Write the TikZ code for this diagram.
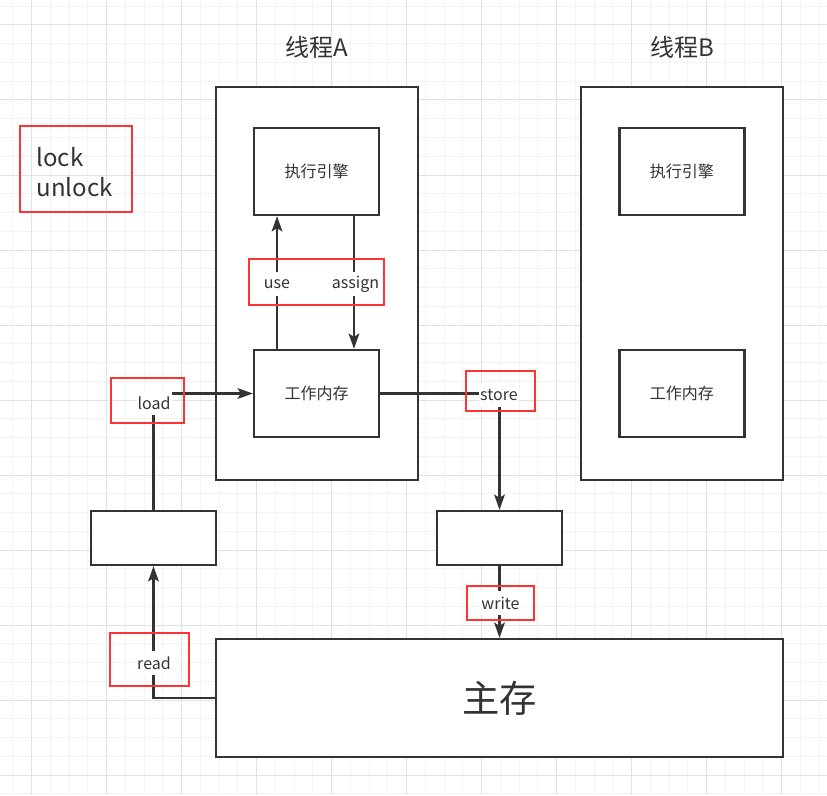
\documentclass[tikz,border=0pt]{standalone}
\usepackage{fontspec}
\setmainfont{Noto Sans CJK SC}
\usepackage{xcolor}
\usepackage{tikz}
\usetikzlibrary{arrows.meta,positioning}
\definecolor{ink}{RGB}{51,51,51}
\definecolor{tagred}{RGB}{255,51,51}
\definecolor{gridminor}{RGB}{243,243,243}
\definecolor{gridmajor}{RGB}{226,226,226}

\begin{document}
\begin{tikzpicture}[
  x=0.75pt, y=-0.75pt,
  threadbox/.style={draw=ink, line width=1.7pt, fill=white, minimum width=151.5pt, minimum height=294.75pt},
  unitbox/.style={draw=ink, line width=1.7pt, fill=white, minimum width=93.75pt, minimum height=65.25pt, text=ink, font=\fontsize{12}{14}\selectfont},
  bufbox/.style={unitbox, minimum height=40.5pt},
  tagbox/.style={draw=tagred, line width=2pt},
  lbl/.style={fill=white, inner sep=1pt, minimum height=18pt, text=ink, font=\fontsize{12}{14}\selectfont},
  title/.style={text=ink, font=\fontsize{18}{22}\selectfont},
  arrow/.style={-{Stealth[length=11.5pt, width=8pt, inset=2.5pt]}, line width=1.7pt, ink}
]
  \useasboundingbox (0,0) rectangle (827,795);
  \fill[white] (0,0) rectangle (827,795);
  % grid
  \foreach \k in {0,...,43}
    \draw[gridminor, line width=0.75pt] ({12.9+18.75*\k},0) -- ({12.9+18.75*\k},795);
  \foreach \k in {0,...,42}
    \draw[gridminor, line width=0.75pt] (0,{6.25+18.75*\k}) -- (827,{6.25+18.75*\k});
  \foreach \k in {0,...,10} {
    \draw[gridmajor, line width=0.75pt] ({31.65+75*\k},0) -- ({31.65+75*\k},795);
    \draw[gridmajor, line width=0.75pt] (0,{25+75*\k}) -- (827,{25+75*\k});
  }

  % threads
  \node[threadbox] (thrA) at (317,283.5) {};
  \node[threadbox, right=120.5pt of thrA] (thrB) {};
  \node[title] (titA) at (316.5,47.5) {线程A};
  \node[title] (titB) at (titA -| thrB) {线程B};
  \node[unitbox] (engA) at (316.5,171.5) {执行引擎};
  \node[unitbox] (memA) at (316.5,393.5) {工作内存};
  \node[unitbox] (engB) at (engA -| thrB) {执行引擎};
  \node[unitbox] (memB) at (memA -| thrB) {工作内存};

  % buffers and main memory
  \node[bufbox] (bufL) at (153.5,538) {};
  \node[bufbox] (bufR) at (499.5,538) {};
  \node[unitbox, minimum width=425.25pt, minimum height=88.5pt, font=\fontsize{28}{32}\selectfont] (mainmem) at (499.5,698) {主存};

  % connectors
  \draw[arrow] ([xshift=-29.6pt]memA.north) -- ([xshift=-29.6pt]engA.south);
  \draw[arrow] ([xshift=28.1pt]engA.south) -- ([xshift=28.1pt]memA.north);
  \draw[arrow] (mainmem.west) -| (bufL.south);
  \draw[arrow] (bufL.north) |- (memA.west);
  \draw[arrow] (memA.east) -| (bufR.north);
  \draw[arrow] (bufR.south) -- (mainmem.north);

  % labels
  \node[lbl] (usel) at (277,284) {use};
  \node[lbl] (assignl) at (355.5,284) {assign};
  \node[lbl] (loadl) at (154,403) {load};
  \node[lbl] (storel) at (499,395) {store};
  \node[lbl] (writel) at (500.5,603) {write};
  \node[lbl] (readl) at (154,663) {read};
  \node[align=left, text=ink, font=\fontsize{18}{22.5}\selectfont] (lockl) at (74.5,172.5) {lock\\unlock};

  % red marks
  \node[tagbox, minimum width=84pt, minimum height=64.5pt] (locktag) at (76,169) {};
  \node[tagbox, minimum width=101.25pt, minimum height=34.5pt] (usetag) at (316.5,282) {};
  \node[tagbox, minimum width=54.75pt, minimum height=33.75pt] (loadtag) at (147.5,400.5) {};
  \node[tagbox, minimum width=51.75pt, minimum height=30pt] (storetag) at (500.5,391) {};
  \node[tagbox, minimum width=50.25pt, minimum height=25.5pt] (writetag) at (500.5,603) {};
  \node[tagbox, minimum width=59.25pt, minimum height=39.75pt] (readtag) at (149.5,659.5) {};
\end{tikzpicture}
\end{document}
